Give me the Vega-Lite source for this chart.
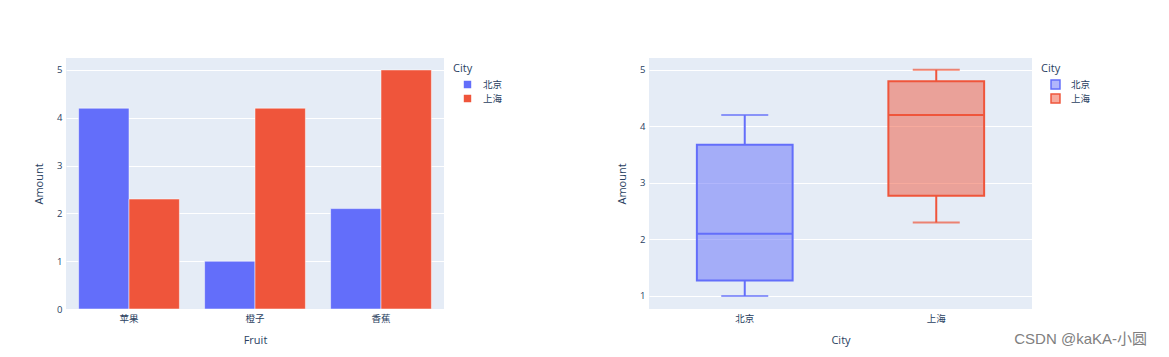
{
  "$schema": "https://vega.github.io/schema/vega-lite/v6.json",
  "background": "white",
  "padding": {"left": 33, "top": 58, "right": 0, "bottom": 0},
  "datasets": {
    "bars": [
      {"Fruit": "苹果", "City": "北京", "Amount": 4.2},
      {"Fruit": "橙子", "City": "北京", "Amount": 1.0},
      {"Fruit": "香蕉", "City": "北京", "Amount": 2.1},
      {"Fruit": "苹果", "City": "上海", "Amount": 2.3},
      {"Fruit": "橙子", "City": "上海", "Amount": 4.2},
      {"Fruit": "香蕉", "City": "上海", "Amount": 5.0}
    ],
    "boxstats": [
      {"City": "北京", "min": 1.0, "q1": 1.275, "median": 2.1, "q3": 3.675, "max": 4.2},
      {"City": "上海", "min": 2.3, "q1": 2.775, "median": 4.2, "q3": 4.8, "max": 5.0}
    ]
  },
  "title": {"text": "CSDN @kaKA-小圆", "orient": "bottom", "anchor": "end", "color": "#808080", "fontSize": 15, "fontWeight": "normal", "font": "Liberation Sans, Noto Sans CJK SC, sans-serif", "dx": 51, "offset": -14},
  "spacing": 108,
  "resolve": {"scale": {"color": "independent"}, "legend": {"color": "independent"}},
  "hconcat": [
    {
      "width": 378,
      "height": 251,
      "data": {"name": "bars"},
      "mark": {"type": "bar", "stroke": "white", "strokeWidth": 0.5},
      "encoding": {
        "x": {"field": "Fruit", "type": "nominal", "sort": ["苹果", "橙子", "香蕉"], "title": "Fruit",
              "scale": {"paddingInner": 0.2, "paddingOuter": 0.1}, "axis": {"labelAngle": 0}},
        "xOffset": {"field": "City", "type": "nominal", "sort": ["北京", "上海"], "scale": {"paddingInner": 0, "paddingOuter": 0}},
        "y": {"field": "Amount", "type": "quantitative", "title": "Amount",
              "scale": {"domain": [0, 5.25], "nice": false, "zero": false},
              "axis": {"values": [0, 1, 2, 3, 4, 5], "format": "d"}},
        "color": {"field": "City", "type": "nominal", "title": "City",
                  "scale": {"domain": ["北京", "上海"], "range": ["#636efa", "#EF553B"]}}
      }
    },
    {
      "width": 383,
      "height": 251,
      "data": {"name": "boxstats"},
      "encoding": {
        "x": {"field": "City", "type": "nominal", "sort": ["北京", "上海"], "title": "City",
              "scale": {"paddingInner": 0.5, "paddingOuter": 0.25}, "axis": {"labelAngle": 0}},
        "color": {"field": "City", "type": "nominal", "title": "City",
                  "scale": {"domain": ["北京", "上海"], "range": ["#636efa", "#EF553B"]},
                  "legend": {"encode": {"symbols": {"update": {"fillOpacity": {"value": 0.5}, "strokeWidth": {"value": 1.5}}}}}}
      },
      "layer": [
        {
          "mark": {"type": "rule", "strokeWidth": 2},
          "encoding": {
            "y": {"field": "min", "type": "quantitative", "title": "Amount",
                  "scale": {"domain": [0.77, 5.21], "nice": false, "zero": false},
                  "axis": {"values": [1, 2, 3, 4, 5], "format": "d"}},
            "y2": {"field": "q1"}
          }
        },
        {
          "mark": {"type": "rule", "strokeWidth": 2},
          "encoding": {"y": {"field": "q3", "type": "quantitative"}, "y2": {"field": "max"}}
        },
        {
          "mark": {"type": "tick", "size": 47, "thickness": 2},
          "encoding": {"y": {"field": "min", "type": "quantitative"}}
        },
        {
          "mark": {"type": "tick", "size": 47, "thickness": 2},
          "encoding": {"y": {"field": "max", "type": "quantitative"}}
        },
        {
          "mark": {"type": "bar", "fillOpacity": 0.5, "strokeWidth": 2},
          "encoding": {"y": {"field": "q1", "type": "quantitative"}, "y2": {"field": "q3"},
                       "stroke": {"field": "City", "type": "nominal", "scale": {"domain": ["北京", "上海"], "range": ["#636efa", "#EF553B"]}, "legend": null}}
        },
        {
          "mark": {"type": "bar", "fill": null, "fillOpacity": 0, "strokeWidth": 2},
          "encoding": {"y": {"field": "median", "type": "quantitative"}, "y2": {"field": "median"},
                       "stroke": {"field": "City", "type": "nominal", "scale": {"domain": ["北京", "上海"], "range": ["#636efa", "#EF553B"]}, "legend": null}}
        }
      ]
    }
  ],
  "config": {
    "font": "Open Sans, Noto Sans CJK SC, sans-serif",
    "view": {"fill": "#e5ecf6", "stroke": null},
    "axis": {"domain": false, "ticks": false, "gridColor": "white", "gridWidth": 1,
             "labelColor": "#2a3f5f", "titleColor": "#2a3f5f", "labelFontSize": 9.5, "titleFontSize": 11,
             "titleFontWeight": "normal", "labelPadding": 4, "titlePadding": 12,
             "labelFont": "Open Sans, Noto Sans CJK SC, sans-serif", "titleFont": "Open Sans, Noto Sans CJK SC, sans-serif"},
    "axisX": {"grid": false},
    "legend": {"offset": 4, "padding": 5, "titleFontSize": 11, "labelFontSize": 9.5, "titleFontWeight": "normal",
               "titleColor": "#2a3f5f", "labelColor": "#2a3f5f", "symbolType": "square", "symbolSize": 80,
               "symbolOffset": 9, "rowPadding": -1, "labelOffset": 10, "titlePadding": 5,
               "titleFont": "Open Sans, Noto Sans CJK SC, sans-serif", "labelFont": "Open Sans, Noto Sans CJK SC, sans-serif"}
  }
}
